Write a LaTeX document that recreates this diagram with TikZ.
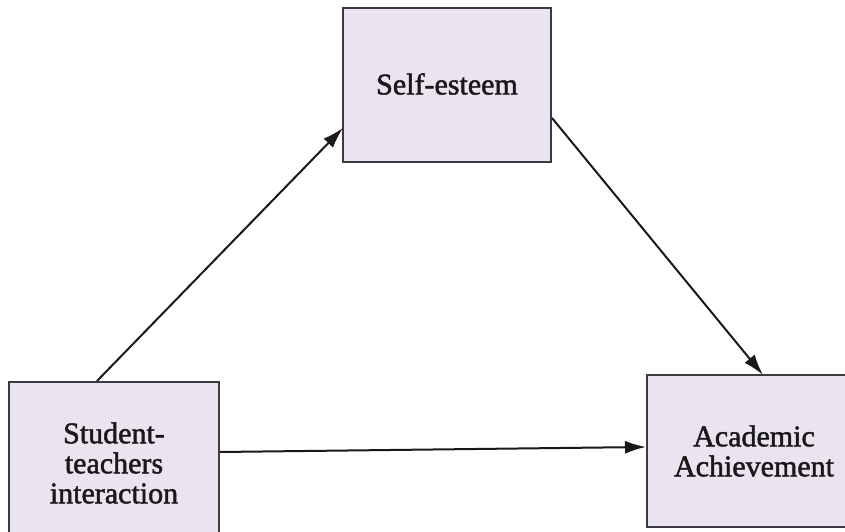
\documentclass[tikz,border=0pt]{standalone}
\usepackage{fontspec}
\setmainfont{Liberation Serif}
\newfontfamily\lblfont[BoldFont={Liberation Serif},BoldFeatures={FakeBold=1.6}]{Liberation Serif}
\usetikzlibrary{arrows.meta}
\definecolor{boxfill}{HTML}{ECE3F1}
\definecolor{boxline}{HTML}{3A3A40}
\begin{document}
\begin{tikzpicture}[x=1pt,y=1pt,
  box/.style={draw=boxline,line width=1.8pt,fill=boxfill,inner sep=0pt},
  lbl/.style={font=\lblfont\bfseries\fontsize{30}{30}\selectfont,align=center,text=black!90},
  conn/.style={draw=black!90,line width=2pt,-{Latex[length=21pt,width=13pt]}}]
\useasboundingbox (0,0) rectangle (845,532);
\begin{scope}
\clip (0,0) rectangle (845,532);
\draw[box] (343,370) rectangle (551,524);
\draw[box] (9,-10) rectangle (219,150);
\draw[box] (647,5) rectangle (860,157);
\end{scope}
\node[lbl] (se) at (447,448) {Self-esteem};
\node[lbl] (st) at (114,69) {Student-\\teachers\\interaction};
\node[lbl] (aa) at (754,81) {Academic\\Achievement};
\coordinate (stTop) at (97,151);
\coordinate (seLeft) at (343,404);
\coordinate (seRight) at (552,414);
\coordinate (aaTop) at (763,157);
\coordinate (stRight) at (220,80);
\coordinate (aaLeft) at (646,85);
\draw[conn] (stTop) -- (seLeft);
\draw[conn] (seRight) -- (aaTop);
\draw[conn] (stRight) -- (aaLeft);
\end{tikzpicture}
\end{document}
